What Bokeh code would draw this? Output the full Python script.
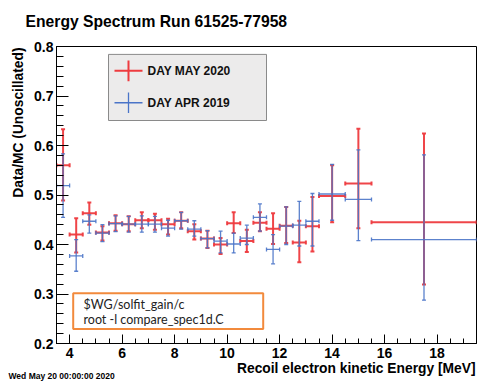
import numpy as np
from bokeh.plotting import figure
from bokeh.models import FixedTicker, PrintfTickFormatter, Label, BoxAnnotation, Range1d
from bokeh.embed import file_html
from bokeh.resources import INLINE

# ---------------- data ----------------
title_text = "Energy Spectrum Run 61525-77958"
y_title = "Data/MC (Unoscillated)"
x_title = "Recoil electron kinetic Energy [MeV]"
date_text = "Wed May 20 00:00:00 2020"
note_lines = ["$WG/solfit_gain/c", "root -l compare_spec1d.C"]
series_names = ["DAY MAY 2020", "DAY APR 2019"]

x_ticks = [4, 6, 8, 10, 12, 14, 16, 18]
x_minor = [3.5 + 0.5 * i for i in range(33)]
y_ticks = [0.2, 0.3, 0.4, 0.5, 0.6, 0.7, 0.8]
y_minor = [round(0.2 + 0.02 * i, 2) for i in range(31)]

bin_lo = [3.5, 4.0, 4.5, 5.0, 5.5, 6.0, 6.5, 7.0, 7.5, 8.0, 8.5, 9.0, 9.5, 10.0,
          10.5, 11.0, 11.5, 12.0, 12.5, 13.0, 13.5, 14.5, 15.5]
bin_hi = [4.0, 4.5, 5.0, 5.5, 6.0, 6.5, 7.0, 7.5, 8.0, 8.5, 9.0, 9.5, 10.0, 10.5,
          11.0, 11.5, 12.0, 12.5, 13.0, 13.5, 14.5, 15.5, 19.5]

may_val = [0.560, 0.420, 0.463, 0.424, 0.443, 0.441, 0.449, 0.449, 0.441, 0.448, 0.427, 0.412,
           0.400, 0.443, 0.407, 0.444, 0.432, 0.438, 0.404, 0.437, 0.498, 0.523, 0.445]
may_up = [0.633, 0.453, 0.485, 0.437, 0.459, 0.457, 0.465, 0.462, 0.452, 0.465, 0.441, 0.428,
          0.413, 0.465, 0.430, 0.465, 0.463, 0.476, 0.448, 0.496, 0.560, 0.634, 0.624]
may_dn = [0.489, 0.384, 0.440, 0.408, 0.428, 0.427, 0.433, 0.430, 0.420, 0.433, 0.410, 0.393,
          0.381, 0.423, 0.385, 0.427, 0.401, 0.403, 0.364, 0.386, 0.445, 0.433, 0.319]

apr_val = [0.519, 0.377, 0.447, 0.423, 0.442, 0.441, 0.441, 0.441, 0.433, 0.448, 0.431, 0.412,
           0.407, 0.401, 0.413, 0.455, 0.390, 0.437, 0.439, 0.447, 0.502, 0.491, 0.410]
apr_up = [0.583, 0.410, 0.460, 0.440, 0.458, 0.457, 0.458, 0.457, 0.449, 0.465, 0.448, 0.428,
          0.427, 0.423, 0.439, 0.482, 0.420, 0.476, 0.487, 0.503, 0.562, 0.591, 0.581]
apr_dn = [0.455, 0.346, 0.423, 0.406, 0.426, 0.425, 0.425, 0.425, 0.417, 0.431, 0.417, 0.393,
          0.383, 0.383, 0.400, 0.427, 0.361, 0.400, 0.397, 0.397, 0.449, 0.408, 0.2875]

# ---------------- layout ----------------
W, H = 477, 385
FL, FR, FT, FB = 56, 1, 46, 38   # frame borders in canvas px
X0, X1 = 3.5, 19.5
Y0, Y1 = 0.2, 0.8
PXX = (W - FL - FR) / (X1 - X0)
PXY = (H - FT - FB) / (Y1 - Y0)


def dx(px):  # canvas px -> data x
    return X0 + (px - FL) / PXX


def dy(py):  # canvas px (from top) -> data y
    return Y1 - (py - FT) / PXY


RED = "#ee3b3f"
BLUE = "#4a74c8"
FONT = "Liberation Sans"

p = figure(width=W, height=H, output_backend="svg", toolbar_location=None,
           x_range=Range1d(X0, X1), y_range=Range1d(Y0, Y1),
           min_border_left=FL, min_border_right=FR, min_border_top=FT, min_border_bottom=FB)
p.grid.visible = False
p.background_fill_color = "white"
p.border_fill_color = "white"
p.outline_line_color = "black"
p.outline_line_width = 1

for ax in (p.xaxis[0], p.yaxis[0]):
    ax.axis_line_color = "black"
    ax.major_tick_out = 0
    ax.minor_tick_out = 0
    ax.major_tick_line_color = "black"
    ax.minor_tick_line_color = "black"
    ax.major_label_text_font = FONT
    ax.major_label_text_font_style = "bold"
    ax.major_label_text_font_size = "14px"
    ax.major_label_text_color = "black"

p.xaxis.ticker = FixedTicker(ticks=x_ticks, minor_ticks=x_minor)
p.xaxis.formatter = PrintfTickFormatter(format="%d")
p.xaxis.major_tick_in = 9
p.xaxis.minor_tick_in = 5
p.xaxis.major_label_standoff = 4

p.yaxis.ticker = FixedTicker(ticks=y_ticks, minor_ticks=y_minor)
p.yaxis.formatter = PrintfTickFormatter(format="%.1f")
p.yaxis.major_tick_in = 12
p.yaxis.minor_tick_in = 7
p.yaxis.major_label_standoff = 3

# ---------------- error-bar series ----------------
def draw_series(val, up, dn, color, lw, alpha):
    lo = np.array(bin_lo)
    hi = np.array(bin_hi)
    xc = (lo + hi) / 2
    p.segment(x0=lo, y0=val, x1=hi, y1=val, line_color=color, line_width=lw, line_alpha=alpha)
    p.segment(x0=xc, y0=dn, x1=xc, y1=up, line_color=color, line_width=lw, line_alpha=alpha)
    p.scatter(x=np.concatenate([xc, xc]), y=np.concatenate([up, dn]), marker="dash",
              size=4, line_color=color, line_width=lw, line_alpha=alpha)
    p.scatter(x=np.concatenate([lo, hi]), y=np.concatenate([val, val]), marker="dash",
              angle=np.pi / 2, size=4, line_color=color, line_width=lw, line_alpha=alpha)


draw_series(may_val, may_up, may_dn, RED, 2, 0.95)
draw_series(apr_val, apr_up, apr_dn, BLUE, 1.3, 0.9)

# ---------------- legend ----------------
p.add_layout(BoxAnnotation(left=dx(108), right=dx(266), top=dy(54), bottom=dy(121),
                           fill_color="#ecebeb", fill_alpha=1, line_color="#8a8a8a",
                           line_alpha=1, line_width=1, level="underlay"))
for i, (name, col, lw) in enumerate(zip(series_names, [RED, BLUE], [2, 1.3])):
    cy = 70.7 + 32.3 * i
    p.segment(x0=[dx(114)], y0=[dy(cy)], x1=[dx(142)], y1=[dy(cy)], line_color=col,
              line_width=lw)
    p.segment(x0=[dx(128)], y0=[dy(cy - 10.5)], x1=[dx(128)], y1=[dy(cy + 10.5)],
              line_color=col, line_width=lw)
    p.add_layout(Label(x=dx(147), y=dy(cy), text=name, text_font=FONT, text_font_style="bold",
                       text_font_size="12px", text_color="#111111", text_baseline="middle",
                       text_align="left"))

# ---------------- note box ----------------
p.add_layout(BoxAnnotation(left=dx(72.7), right=dx(262.7), top=dy(296), bottom=dy(332.3),
                           fill_color="white", fill_alpha=1, line_color="#f28a3c",
                           line_alpha=1, line_width=2, level="underlay"))
for i, line in enumerate(note_lines):
    p.add_layout(Label(x=dx(83), y=dy(307 + 16 * i), text=line, text_font="Lato",
                       text_font_size="12.5px", text_color="#222222", text_baseline="middle",
                       text_align="left"))

# ---------------- texts in the side panels (not clipped to the frame) ----------------
p.add_layout(Label(x=dx(25), y=dy(21), text=title_text, text_font=FONT,
                   text_font_style="bold", text_font_size="15.7px", text_color="black",
                   text_baseline="middle", text_align="left"), "above")
p.add_layout(Label(x=dx(18), y=dy(47), text=y_title, text_font=FONT,
                   text_font_style="bold", text_font_size="13.8px", text_color="black",
                   text_baseline="middle", text_align="right", angle=np.pi / 2), "left")
p.add_layout(Label(x=dx(475), y=dy(372), text=x_title, text_font=FONT,
                   text_font_style="bold", text_font_size="13.8px", text_color="black",
                   text_baseline="middle", text_align="right"), "below")
p.add_layout(Label(x=dx(8), y=dy(380), text=date_text, text_font=FONT,
                   text_font_style="bold", text_font_size="8.5px", text_color="black",
                   text_baseline="middle", text_align="left"), "below")

open("out.html", "w").write(file_html(p, INLINE))
